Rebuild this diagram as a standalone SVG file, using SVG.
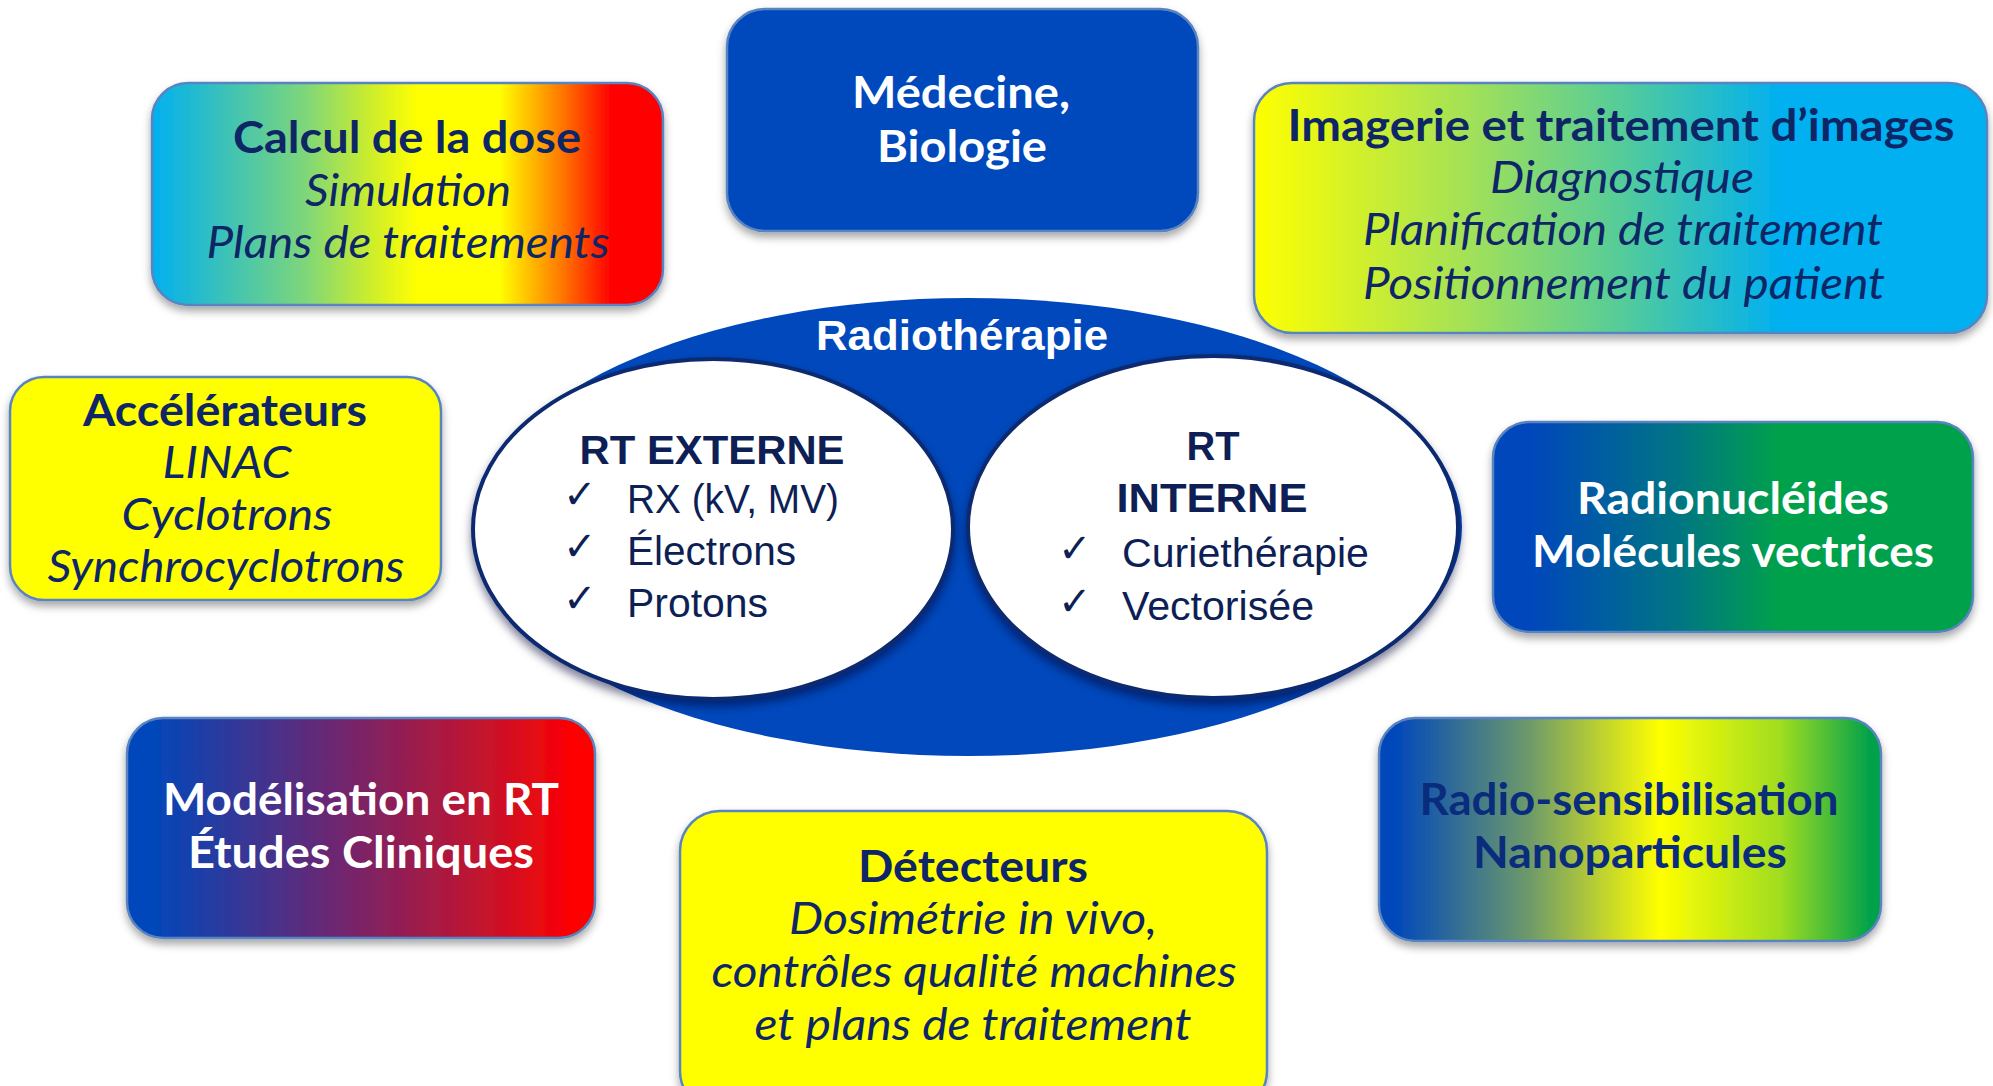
<svg xmlns="http://www.w3.org/2000/svg" width="1993" height="1086" viewBox="0 0 1993 1086">
<defs>
<style>
.box{stroke:#5A84C0;stroke-width:2.5;filter:url(#sh)}
.t{font-family:Lato,"Noto Sans",sans-serif;font-size:44px;text-anchor:middle}
.b{font-weight:bold}
.i{font-style:italic;font-weight:normal}
.dk{fill:#0E2666}
.wh{fill:#FFFFFF}
.c{font-family:"Liberation Sans",Arial,sans-serif;font-size:40px;fill:#0D1F55}
.chk{font-family:"DejaVu Sans",sans-serif;font-size:40px;fill:#0D1F55;font-weight:bold}
</style>
<filter id="sh" x="-10%" y="-10%" width="120%" height="130%">
<feDropShadow dx="0" dy="5" stdDeviation="4" flood-color="#000" flood-opacity="0.35"/>
</filter>
<filter id="esh" x="-10%" y="-10%" width="120%" height="130%">
<feDropShadow dx="0" dy="6" stdDeviation="5" flood-color="#000033" flood-opacity="0.5"/>
</filter>
<linearGradient id="g1" x1="0" y1="0" x2="1" y2="0">
<stop offset="0" stop-color="#00B0F0"/>
<stop offset="0.3" stop-color="#7ED67A"/>
<stop offset="0.42" stop-color="#C8EC30"/>
<stop offset="0.52" stop-color="#FFFF00"/>
<stop offset="0.68" stop-color="#FFFF00"/>
<stop offset="0.8" stop-color="#FF7A00"/>
<stop offset="0.9" stop-color="#FF0000"/>
<stop offset="1" stop-color="#FF0000"/>
</linearGradient>
<linearGradient id="g3" x1="0" y1="0" x2="1" y2="0">
<stop offset="0" stop-color="#FFFF00"/>
<stop offset="0.3" stop-color="#A0E05A"/>
<stop offset="0.5" stop-color="#55CC99"/>
<stop offset="0.72" stop-color="#00B0F0"/>
<stop offset="1" stop-color="#00B0F0"/>
</linearGradient>
<linearGradient id="g5" x1="0" y1="0" x2="1" y2="0">
<stop offset="0.08" stop-color="#0047BB"/>
<stop offset="0.38" stop-color="#007485"/>
<stop offset="0.6" stop-color="#00A14B"/>
<stop offset="1" stop-color="#00A14B"/>
</linearGradient>
<linearGradient id="g6" x1="0" y1="0" x2="1" y2="0">
<stop offset="0.05" stop-color="#0047BB"/>
<stop offset="0.45" stop-color="#6E2670"/>
<stop offset="0.75" stop-color="#C01530"/>
<stop offset="0.96" stop-color="#FF0000"/>
</linearGradient>
<linearGradient id="g7" x1="0" y1="0" x2="1" y2="0">
<stop offset="0.03" stop-color="#0047BB"/>
<stop offset="0.3" stop-color="#6E9A6A"/>
<stop offset="0.56" stop-color="#FFFF00"/>
<stop offset="0.8" stop-color="#A0DD20"/>
<stop offset="0.98" stop-color="#00A14B"/>
</linearGradient>
</defs>
<rect width="1993" height="1086" fill="#FFFFFF"/>

<g id="radiotherapie">
<ellipse cx="968" cy="527" rx="494" ry="229" fill="#0048BC"/>
<ellipse cx="713" cy="529" rx="240" ry="170" fill="#FFFFFF" stroke="#0B2A70" stroke-width="4" filter="url(#esh)"/>
<ellipse cx="1213" cy="527" rx="245" ry="171" fill="#FFFFFF" stroke="#0B2A70" stroke-width="4" filter="url(#esh)"/>
<text x="962" y="350" class="c b" style="fill:#FFFFFF;font-size:42px" text-anchor="middle" textLength="292" lengthAdjust="spacingAndGlyphs">Radiothérapie</text>
</g>

<g id="rt-externe">
<text x="712" y="464" class="c b" text-anchor="middle" textLength="265" lengthAdjust="spacingAndGlyphs">RT EXTERNE</text>
<text x="563" y="508" class="chk">✓</text>
<text x="627" y="513" class="c" textLength="212" lengthAdjust="spacingAndGlyphs">RX (kV, MV)</text>
<text x="563" y="560" class="chk">✓</text>
<text x="627" y="565" class="c" textLength="169" lengthAdjust="spacingAndGlyphs">Électrons</text>
<text x="563" y="612" class="chk">✓</text>
<text x="627" y="617" class="c" textLength="141" lengthAdjust="spacingAndGlyphs">Protons</text>
</g>

<g id="rt-interne">
<text x="1213" y="460" class="c b" text-anchor="middle" textLength="53" lengthAdjust="spacingAndGlyphs">RT</text>
<text x="1212" y="512" class="c b" text-anchor="middle" textLength="191" lengthAdjust="spacingAndGlyphs">INTERNE</text>
<text x="1058" y="562" class="chk">✓</text>
<text x="1122" y="567" class="c" textLength="247" lengthAdjust="spacingAndGlyphs">Curiethérapie</text>
<text x="1058" y="615" class="chk">✓</text>
<text x="1122" y="620" class="c" textLength="192" lengthAdjust="spacingAndGlyphs">Vectorisée</text>
</g>

<g id="calcul-dose">
<rect x="152" y="83" width="511" height="222" rx="36" fill="url(#g1)" class="box"/>
<text x="407" y="153" class="t b dk" textLength="348" lengthAdjust="spacingAndGlyphs">Calcul de la dose</text>
<text x="408" y="206" class="t i dk" textLength="206" lengthAdjust="spacingAndGlyphs">Simulation</text>
<text x="408" y="258" class="t i dk" textLength="403" lengthAdjust="spacingAndGlyphs">Plans de traitements</text>
</g>

<g id="medecine">
<rect x="727" y="9" width="471" height="222" rx="38" fill="#0048BC" class="box"/>
<text x="961" y="108" class="t b wh" textLength="218" lengthAdjust="spacingAndGlyphs">Médecine,</text>
<text x="962" y="162" class="t b wh" textLength="170" lengthAdjust="spacingAndGlyphs">Biologie</text>
</g>

<g id="imagerie">
<rect x="1254" y="83" width="733" height="250" rx="38" fill="url(#g3)" class="box"/>
<text x="1621" y="141" class="t b dk" textLength="667" lengthAdjust="spacingAndGlyphs">Imagerie et traitement d’images</text>
<text x="1622" y="193" class="t i dk" textLength="264" lengthAdjust="spacingAndGlyphs">Diagnostique</text>
<text x="1623" y="245" class="t i dk" textLength="520" lengthAdjust="spacingAndGlyphs">Planification de traitement</text>
<text x="1624" y="299" class="t i dk" textLength="522" lengthAdjust="spacingAndGlyphs">Positionnement du patient</text>
</g>

<g id="accelerateurs">
<rect x="10" y="377" width="431" height="223" rx="34" fill="#FFFF00" class="box"/>
<text x="225" y="426" class="t b dk" textLength="284" lengthAdjust="spacingAndGlyphs">Accélérateurs</text>
<text x="227" y="478" class="t i dk" textLength="129" lengthAdjust="spacingAndGlyphs">LINAC</text>
<text x="227" y="530" class="t i dk" textLength="211" lengthAdjust="spacingAndGlyphs">Cyclotrons</text>
<text x="226" y="582" class="t i dk" textLength="357" lengthAdjust="spacingAndGlyphs">Synchrocyclotrons</text>
</g>

<g id="radionucleides">
<rect x="1493" y="422" width="480" height="210" rx="36" fill="url(#g5)" class="box"/>
<text x="1733" y="514" class="t b wh" textLength="312" lengthAdjust="spacingAndGlyphs">Radionucléides</text>
<text x="1733" y="567" class="t b wh" textLength="402" lengthAdjust="spacingAndGlyphs">Molécules vectrices</text>
</g>

<g id="modelisation">
<rect x="127" y="718" width="468" height="220" rx="36" fill="url(#g6)" class="box"/>
<text x="361" y="815" class="t b wh" textLength="396" lengthAdjust="spacingAndGlyphs">Modélisation en RT</text>
<text x="361" y="868" class="t b wh" textLength="346" lengthAdjust="spacingAndGlyphs">Études Cliniques</text>
</g>

<g id="radiosensibilisation">
<rect x="1379" y="718" width="502" height="223" rx="36" fill="url(#g7)" class="box"/>
<text x="1629" y="815" class="t b" style="fill:#0A2C7C" textLength="419" lengthAdjust="spacingAndGlyphs">Radio-sensibilisation</text>
<text x="1630" y="868" class="t b" style="fill:#0A2C7C" textLength="314" lengthAdjust="spacingAndGlyphs">Nanoparticules</text>
</g>

<g id="detecteurs">
<rect x="680" y="811" width="587" height="300" rx="40" fill="#FFFF00" class="box"/>
<text x="973" y="882" class="t b dk" textLength="230" lengthAdjust="spacingAndGlyphs">Détecteurs</text>
<text x="973" y="934" class="t i dk" textLength="368" lengthAdjust="spacingAndGlyphs">Dosimétrie in vivo,</text>
<text x="974" y="987" class="t i dk" textLength="525" lengthAdjust="spacingAndGlyphs">contrôles qualité machines</text>
<text x="973" y="1040" class="t i dk" textLength="437" lengthAdjust="spacingAndGlyphs">et plans de traitement</text>
</g>
</svg>
